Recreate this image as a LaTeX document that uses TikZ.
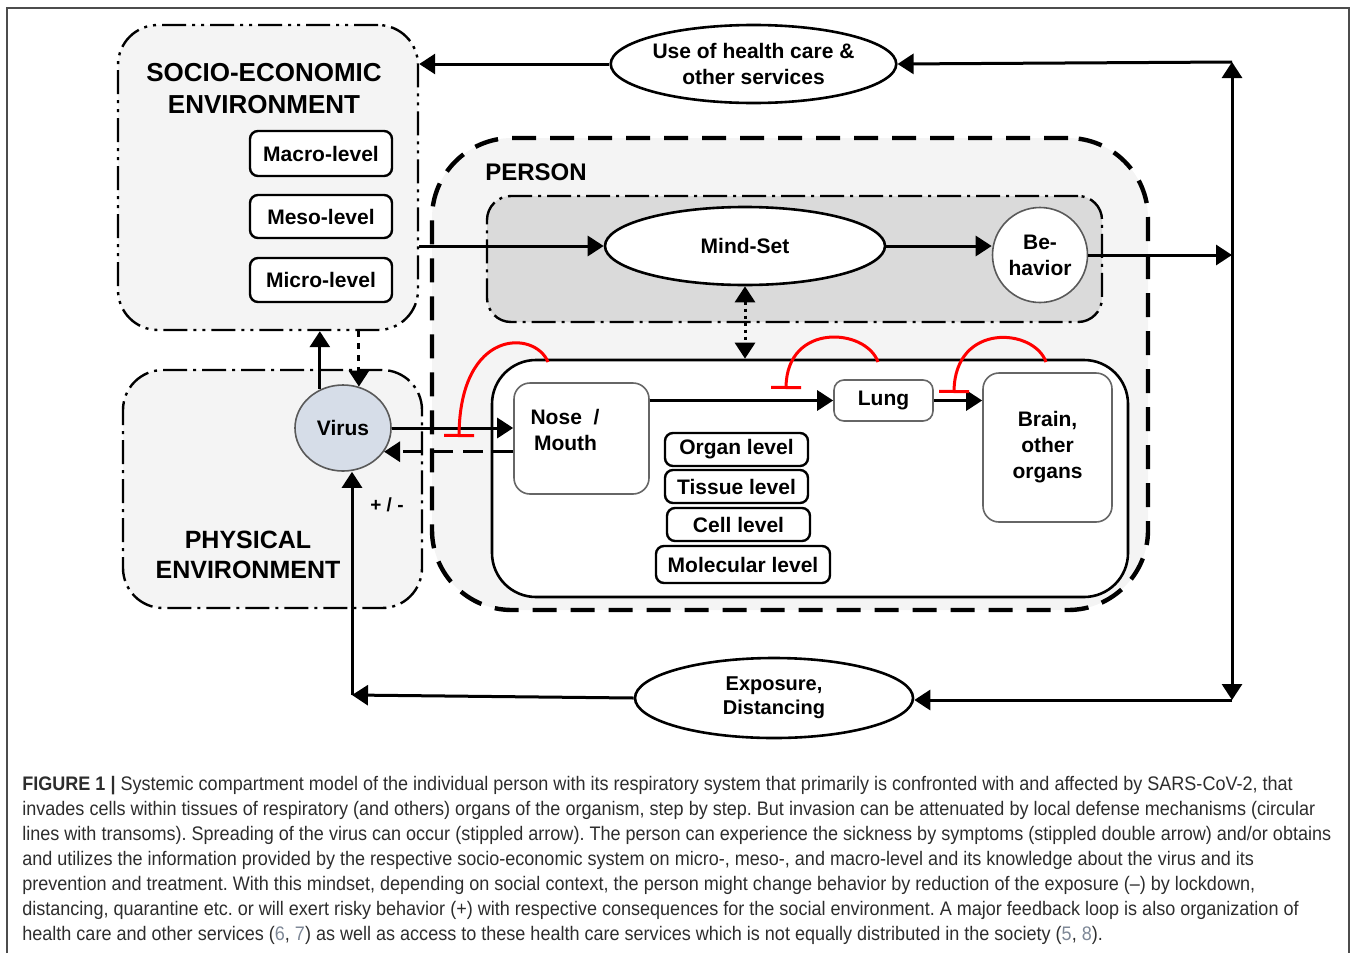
\documentclass[tikz,border=0pt]{standalone}
\usepackage{fontspec}
\setmainfont{Liberation Sans}
\setsansfont{Liberation Sans}
\usetikzlibrary{arrows.meta,shapes.geometric}

\definecolor{panel}{RGB}{244,244,244}
\definecolor{mindgray}{RGB}{218,218,218}
\definecolor{virusblue}{RGB}{214,221,232}
\definecolor{captext}{RGB}{45,45,45}
\definecolor{reflink}{RGB}{125,135,150}

\begin{document}
\frenchspacing
\begin{tikzpicture}[x=0.5pt, y=-0.5pt, >={Triangle[length=8pt,width=10pt]}]
        \tikzstyle{every node}=[font=\sffamily\bfseries\fontsize{10.5}{13}\selectfont, inner sep=0pt]
        \tikzstyle{compart}=[draw, rounded corners=20pt, line width=1.2pt, fill=panel]
        \tikzstyle{dashdotdot}=[dash pattern=on 12pt off 3pt on 1.5pt off 3pt on 1.5pt off 3pt]
        \tikzstyle{dashdot}=[dash pattern=on 12pt off 3pt on 1.5pt off 3pt]
        \tikzstyle{lvlbox}=[draw, rounded corners=4pt, line width=1.2pt, fill=white]
        \tikzstyle{organ}=[draw=gray!80!black, rounded corners=8pt, line width=0.8pt, fill=white]
        \tikzstyle{ellnode}=[draw, ellipse, line width=1.3pt, fill=white]
        \tikzstyle{flowarr}=[line width=1.5pt, ->]
        \tikzstyle{defense}=[red, line width=1.5pt, -{Bar[width=15pt]}]
        \tikzstyle{biglabel}=[font=\sffamily\bfseries\fontsize{13}{16}\selectfont, align=center]

        \useasboundingbox (0,0) rectangle (1358,953);
        \draw[gray!60!black, line width=0.9pt] (7,953) -- (7,8) -- (1349,8) -- (1349,953);

        \node[compart, dashdotdot, minimum width=150pt, minimum height=152.5pt] (socio) at (268,177.5) {};
        \node[compart, dashdot, minimum width=149.5pt, minimum height=119pt] (phys) at (272.5,489) {};
        \node[compart, rounded corners=40pt, line width=2.2pt, dash pattern=on 12pt off 7pt,
              minimum width=358pt, minimum height=236pt] (person) at (790,374) {};
        \node[compart, dashdot, fill=mindgray, rounded corners=12pt, minimum width=307.5pt, minimum height=63pt] (mindbox) at (794.5,259) {};
        \node[draw, fill=white, rounded corners=22pt, line width=1.3pt, minimum width=318pt, minimum height=118.5pt] (organism) at (810,478.5) {};

        \node[biglabel] (sociolbl) at (264,89) {SOCIO-ECONOMIC\\ENVIRONMENT};
        \node[biglabel, font=\sffamily\bfseries\fontsize{12.5}{15}\selectfont] (physlbl) at (248,555) {PHYSICAL\\ENVIRONMENT};
        \node[font=\sffamily\bfseries\fontsize{12}{14}\selectfont] (personlbl) at (536,172) {PERSON};

        \node[lvlbox, minimum width=71pt, minimum height=22.5pt] (macro) at (321,153.5) {Macro-level};
        \node[lvlbox, minimum width=71pt, minimum height=21.5pt] (meso) at (321,216.5) {Meso-level};
        \node[lvlbox, minimum width=71pt, minimum height=22pt] (micro) at (321,280) {Micro-level};

        \node[ellipse, draw=gray!70!black, fill=virusblue, line width=0.8pt, minimum width=48pt, minimum height=43pt] (virus) at (343,428) {Virus};
        \node[font=\sffamily\bfseries\fontsize{9.5}{11}\selectfont] (sign) at (387,505) {+ / -};

        \node[ellnode, minimum width=140pt, minimum height=39pt] (mind) at (745,246) {Mind-Set};
        \node[circle, draw=gray!70!black, line width=0.8pt, fill=white, minimum size=47.5pt, align=center] (behav) at (1040,255) {Be-\\havior};

        \node[organ, minimum width=67.5pt, minimum height=55.5pt] (nose) at (581.5,438.5) {};
        \node[align=left] (noselbl) at (565,430) {Nose~~/\\\,Mouth};
        \node[organ, rounded corners=5pt, minimum width=49.5pt, minimum height=20.5pt] (lung) at (883.5,400.5) {Lung};
        \node[organ, minimum width=64.5pt, minimum height=74.5pt, align=center] (brain) at (1047.5,447.5) {Brain,\\other\\organs};

        \node[lvlbox, minimum width=71.5pt, minimum height=16.5pt] (organlvl) at (736.5,449.5) {Organ level};
        \node[lvlbox, minimum width=71.5pt, minimum height=16.5pt] (tissuelvl) at (736.5,486.5) {Tissue level};
        \node[lvlbox, minimum width=71.5pt, minimum height=16.5pt] (celllvl) at (738.5,524.5) {Cell level};
        \node[lvlbox, minimum width=87pt, minimum height=18.5pt] (mollvl) at (743,564.5) {Molecular level};

        \node[ellnode, minimum width=138.5pt, minimum height=39pt, align=center] (uhc) at (753.5,64) {Use of health care \&\\other services};
        \node[ellnode, minimum width=139pt, minimum height=40pt, align=center, font=\sffamily\bfseries\fontsize{10}{12}\selectfont] (expo) at (774,698) {Exposure,\\Distancing};

        \coordinate (rtop) at (1232,62);
        \coordinate (rmid) at (1232,252);
        \coordinate (rbot) at (1232,700);
        \coordinate (lbot) at (352,695);

        \draw[flowarr] (uhc.west) -- (uhc.west -| socio.east);
        \draw[flowarr] (rmid) -- (rtop);
        \draw[flowarr] (rtop) -- (uhc.east);
        \draw[flowarr] (rmid) -- (rbot);
        \draw[flowarr] (rbot) -- (rbot -| expo.east);
        \draw[flowarr] (behav.east) -- (behav.east -| rmid);
        \draw[flowarr] (expo.west) -- (lbot);
        \draw[flowarr] (lbot) -- (lbot |- virus.south);
        \draw[flowarr] (virus.121) -- (virus.121 |- socio.south);
        \draw[flowarr, dashed] (virus.69 |- socio.south) -- (virus.69);
        \draw[flowarr] (socio.east |- mind.west) -- (mind.west);
        \draw[flowarr] (mind.east) -- (mind.east -| behav.west);
        \draw[line width=1.5pt, <->, dotted] (mind.south) -- (mind.south |- organism.north);
        \draw[flowarr] (virus.east) -- (virus.east -| nose.west);
        \draw[flowarr, dash pattern=on 10pt off 5pt] (nose.west |- virus.-30) -- (virus.-30);
        \draw[flowarr] (nose.east |- lung.west) -- (lung.west);
        \draw[flowarr] (lung.east) -- (lung.east -| brain.west);

        \coordinate (def1) at (548,362);
        \coordinate (def2) at (878,362);
        \coordinate (def3) at (1046,362);
        \draw[defense] (def1) .. controls (535,330) and (460,328) .. (459,437);
        \draw[defense] (def2) .. controls (866,328) and (787,322) .. (786,389);
        \draw[defense] (def3) .. controls (1034,328) and (955,322) .. (954,393);

        \node[anchor=north west, align=left, text=captext, xscale=0.92, transform shape,
              font=\fontsize{9.8}{12.5}\selectfont] (caption) at (22,776) {\textbf{FIGURE 1 |} Systemic compartment model of the individual person with its respiratory system that primarily is confronted with and affected by SARS-CoV-2, that\\
invades cells within tissues of respiratory (and others) organs of the organism, step by step. But invasion can be attenuated by local defense mechanisms (circular\\
lines with transoms). Spreading of the virus can occur (stippled arrow). The person can experience the sickness by symptoms (stippled double arrow) and/or obtains\\
and utilizes the information provided by the respective socio-economic system on micro-, meso-, and macro-level and its knowledge about the virus and its\\
prevention and treatment. With this mindset, depending on social context, the person might change behavior by reduction of the exposure (--) by lockdown,\\
distancing, quarantine etc. or will exert risky behavior (+) with respective consequences for the social environment. A major feedback loop is also organization of\\
health care and other services ({\color{reflink}6}, {\color{reflink}7}) as well as access to these health care services which is not equally distributed in the society ({\color{reflink}5}, {\color{reflink}8}).};
    \end{tikzpicture}
\end{document}
